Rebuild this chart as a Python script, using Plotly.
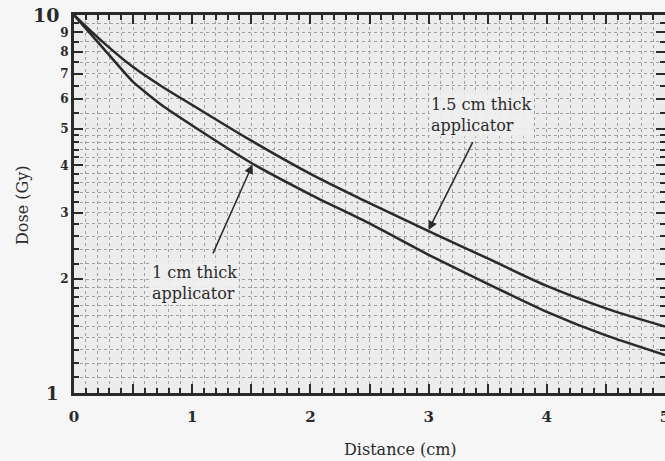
import math
import plotly.graph_objects as go

# ---- data ----
distance = [0, 0.25, 0.5, 0.75, 1.0, 1.5, 2.0, 2.5, 3.0, 3.5, 4.0, 4.5, 5.0]
dose_1cm = [10, 8.15, 6.65, 5.75, 5.10, 4.06, 3.35, 2.81, 2.32, 1.945, 1.64, 1.42, 1.26]
dose_15cm = [10, 8.45, 7.28, 6.45, 5.78, 4.65, 3.80, 3.18, 2.68, 2.27, 1.92, 1.675, 1.50]

x_tick_vals = [0, 0.5, 1, 1.5, 2, 2.5, 3, 3.5, 4, 4.5, 5]
x_tick_text = ["0", "", "1", "", "2", "", "3", "", "4", "", "5"]
y_tick_vals = [1, 2, 3, 4, 5, 6, 7, 8, 9, 10]
y_tick_text = ["1", "2", "3", "4", "5", "6", "7", "8", "9", "10"]
y_minor_vals = [v / 10 for v in range(11, 20)] + [v / 10 for v in range(22, 30, 2)] + \
               [v / 10 for v in range(32, 40, 2)] + [v / 10 for v in range(42, 50, 2)] + \
               [v / 10 for v in range(55, 100, 5) if v % 10 != 0]

label_15 = "1.5 cm thick<br>applicator"
label_15_pos = (3.0, 5.45)
arrow_15 = dict(head=(3.0, 2.70), tail=(3.38, 4.65))
label_1 = "1 cm thick<br>applicator"
label_1_pos = (0.64, 1.95)
arrow_1 = dict(head=(1.51, 4.02), tail=(1.17, 2.32))

x_title = "Distance (cm)"
y_title = "Dose (Gy)"

ink = "#2a2a2a"
font_family = "DejaVu Serif"

fig = go.Figure()
fig.add_trace(go.Scatter(x=distance, y=dose_1cm, mode="lines",
                         line=dict(color=ink, width=2.5, shape="spline", smoothing=0.5),
                         showlegend=False))
fig.add_trace(go.Scatter(x=distance, y=dose_15cm, mode="lines",
                         line=dict(color=ink, width=2.5, shape="spline", smoothing=1.0),
                         showlegend=False))

grid_col = "#a0a0a0"
fig.update_xaxes(
    range=[0, 5], tickmode="array", tickvals=x_tick_vals, ticktext=x_tick_text,
    ticks="inside", ticklen=9, tickwidth=2, tickcolor=ink,
    showline=True, linecolor=ink, linewidth=3, mirror="allticks",
    showgrid=True, gridcolor=grid_col, gridwidth=1, griddash="dot",
    zeroline=False, automargin=False, ticklabeloverflow="allow", ticklabelstandoff=8,
    minor=dict(dtick=0.1, ticks="inside", ticklen=5, tickwidth=1.5, tickcolor=ink,
               showgrid=True, gridcolor=grid_col, gridwidth=1, griddash="dot"),
    tickfont=dict(family=font_family, size=15, color=ink, weight="bold"),
)
# the end labels (1 and 10) are drawn larger, as annotations below
fig.update_yaxes(
    type="log", range=[0, 1], tickmode="array", tickvals=y_tick_vals,
    ticktext=[""] + y_tick_text[1:-1] + [""],
    ticks="inside", ticklen=9, tickwidth=2, tickcolor=ink,
    showline=True, linecolor=ink, linewidth=3, mirror="allticks",
    showgrid=True, gridcolor=grid_col, gridwidth=1, griddash="dot",
    zeroline=False, automargin=False, ticklabeloverflow="allow",
    minor=dict(tickmode="array", tickvals=y_minor_vals, ticks="inside", ticklen=5,
               tickwidth=1.5, tickcolor=ink, showgrid=True, gridcolor=grid_col,
               gridwidth=1, griddash="dot"),
    tickfont=dict(family=font_family, size=12, color=ink, weight="bold"),
)
for val, txt, size in [(y_tick_vals[0], y_tick_text[0], 18), (y_tick_vals[-1], y_tick_text[-1], 19)]:
    fig.add_annotation(x=-(74 - 61) / 591, xref="paper", y=math.log10(val), yref="y",
                       text=txt, showarrow=False, xanchor="right", yanchor="middle",
                       font=dict(family=font_family, size=size, color=ink, weight="bold"))

for txt, pos in [(label_15, label_15_pos), (label_1, label_1_pos)]:
    fig.add_annotation(x=pos[0], y=math.log10(pos[1]), xref="x", yref="y", text=txt,
                       showarrow=False, xanchor="left", yanchor="middle", align="left",
                       font=dict(family=font_family, size=16, color=ink),
                       bgcolor="rgba(240,240,240,0.9)", borderpad=1)
for arr in [arrow_15, arrow_1]:
    fig.add_annotation(x=arr["head"][0], y=math.log10(arr["head"][1]),
                       ax=arr["tail"][0], ay=math.log10(arr["tail"][1]),
                       xref="x", yref="y", axref="x", ayref="y",
                       text="", showarrow=True, arrowhead=2, arrowsize=1.2,
                       arrowwidth=1.5, arrowcolor=ink)

fig.add_annotation(x=367 / 665, y=-(450 - 393) / 378, xref="paper", yref="paper",
                   text=x_title, showarrow=False, xanchor="center", yanchor="middle",
                   font=dict(family=font_family, size=16, color=ink))
fig.add_annotation(x=-(74 - 22) / 591, y=(393 - 205) / 378, xref="paper", yref="paper",
                   text=y_title, showarrow=False, textangle=-90,
                   xanchor="center", yanchor="middle",
                   font=dict(family=font_family, size=16, color=ink))

fig.update_layout(
    width=665, height=461, template="none",
    margin=dict(l=74, r=0, t=15, b=68),
    plot_bgcolor="#ececec", paper_bgcolor="#f6f6f6",
    showlegend=False,
)
fig.write_html("out.html")
